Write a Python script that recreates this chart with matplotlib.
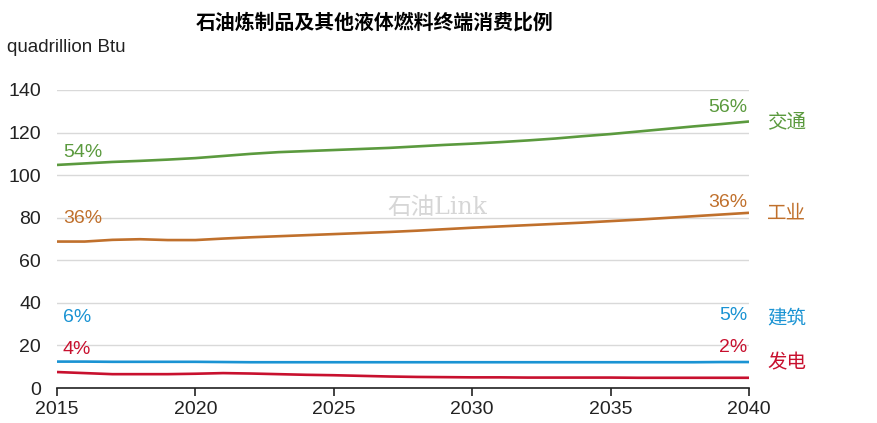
import matplotlib
matplotlib.use("Agg")
import matplotlib.pyplot as plt

plt.rcParams['font.family'] = ['Liberation Sans', 'Noto Sans CJK SC', 'DejaVu Sans']

years = list(range(2015, 2041))
transport = [104.8, 105.5, 106.2, 106.7, 107.3, 108.0, 109.0, 110.0, 110.8, 111.3,
             111.8, 112.3, 112.8, 113.5, 114.2, 114.8, 115.5, 116.3, 117.2, 118.3,
             119.3, 120.5, 121.7, 122.9, 124.0, 125.2]
industry = [68.8, 68.8, 69.6, 69.9, 69.5, 69.5, 70.2, 70.8, 71.3, 71.8,
            72.3, 72.8, 73.3, 73.9, 74.6, 75.3, 75.9, 76.5, 77.1, 77.7,
            78.4, 79.1, 79.9, 80.7, 81.5, 82.3]
buildings = [12.4, 12.4, 12.3, 12.3, 12.3, 12.3, 12.2, 12.1, 12.1, 12.1,
             12.1, 12.1, 12.1, 12.1, 12.1, 12.1, 12.1, 12.1, 12.1, 12.1,
             12.1, 12.1, 12.1, 12.1, 12.2, 12.2]
power = [7.5, 7.0, 6.5, 6.5, 6.5, 6.7, 7.0, 6.8, 6.5, 6.2,
         6.0, 5.7, 5.4, 5.2, 5.1, 5.0, 5.0, 4.9, 4.9, 4.9,
         4.9, 4.8, 4.8, 4.8, 4.8, 4.8]

series_names = ['交通', '工业', '建筑', '发电']
start_pct = ['54%', '36%', '6%', '4%']
end_pct = ['56%', '36%', '5%', '2%']
colors = ['#5b9a3e', '#c0702c', '#1a93d3', '#c8102e']
yticks = [0, 20, 40, 60, 80, 100, 120, 140]
xticks = [2015, 2020, 2025, 2030, 2035, 2040]

W, H = 878, 423
fig = plt.figure(figsize=(W/100, H/100), dpi=100)
ax = fig.add_axes([57/W, 1-388/H, (749-57)/W, (388-90)/H])

data = [transport, industry, buildings, power]
for vals, c in zip(data, colors):
    ax.plot(years, vals, color=c, lw=1.9, solid_capstyle='butt', zorder=3)

ax.set_xlim(2015, 2040)
ax.set_ylim(0, 140)
ax.set_yticks(yticks)
ax.set_xticks(xticks)
ax.grid(axis='y', color='#d9d9d9', lw=1)
ax.set_axisbelow(True)
for s in ['top', 'right', 'left']:
    ax.spines[s].set_visible(False)
ax.spines['bottom'].set_color('#222222')
ax.spines['bottom'].set_linewidth(1.2)
ax.tick_params(axis='y', length=0, labelsize=14, pad=11.5, labelcolor='#222222')
ax.tick_params(axis='x', length=6, width=1.2, color='#222222', labelsize=14, pad=3.5, labelcolor='#222222')

# percent labels (pixel placement)
start_yp = [152, 218, 318, 349]
end_yp = [108, 202, 315, 347]
for i in range(4):
    fig.text(63/W, 1 - start_yp[i]/H, start_pct[i], color=colors[i], fontsize=14, ha='left', va='center')
    fig.text(747/W, 1 - end_yp[i]/H, end_pct[i], color=colors[i], fontsize=14, ha='right', va='center')

label_y = [123, 213, 318, 363]
for i in range(4):
    fig.text(767/W, 1 - label_y[i]/H, series_names[i], color=colors[i], fontsize=14,
             ha='left', va='center', family=['Noto Sans CJK SC', 'DejaVu Sans'])

fig.text(375/W, 1 - 22/H, '石油炼制品及其他液体燃料终端消费比例', fontsize=14.3, fontweight='bold',
         ha='center', va='center', family=['Noto Sans CJK SC', 'DejaVu Sans'])
fig.text(7/W, 1 - 48/H, 'quadrillion Btu', fontsize=13.5, ha='left', va='center', color='#222222')
fig.text(437/W, 1 - 207/H, '石油Link', fontsize=17, color='#d6d6d6', ha='center', va='center',
         family=['DejaVu Serif', 'Noto Sans CJK SC'], zorder=1)

fig.savefig('out.png', dpi=100)
